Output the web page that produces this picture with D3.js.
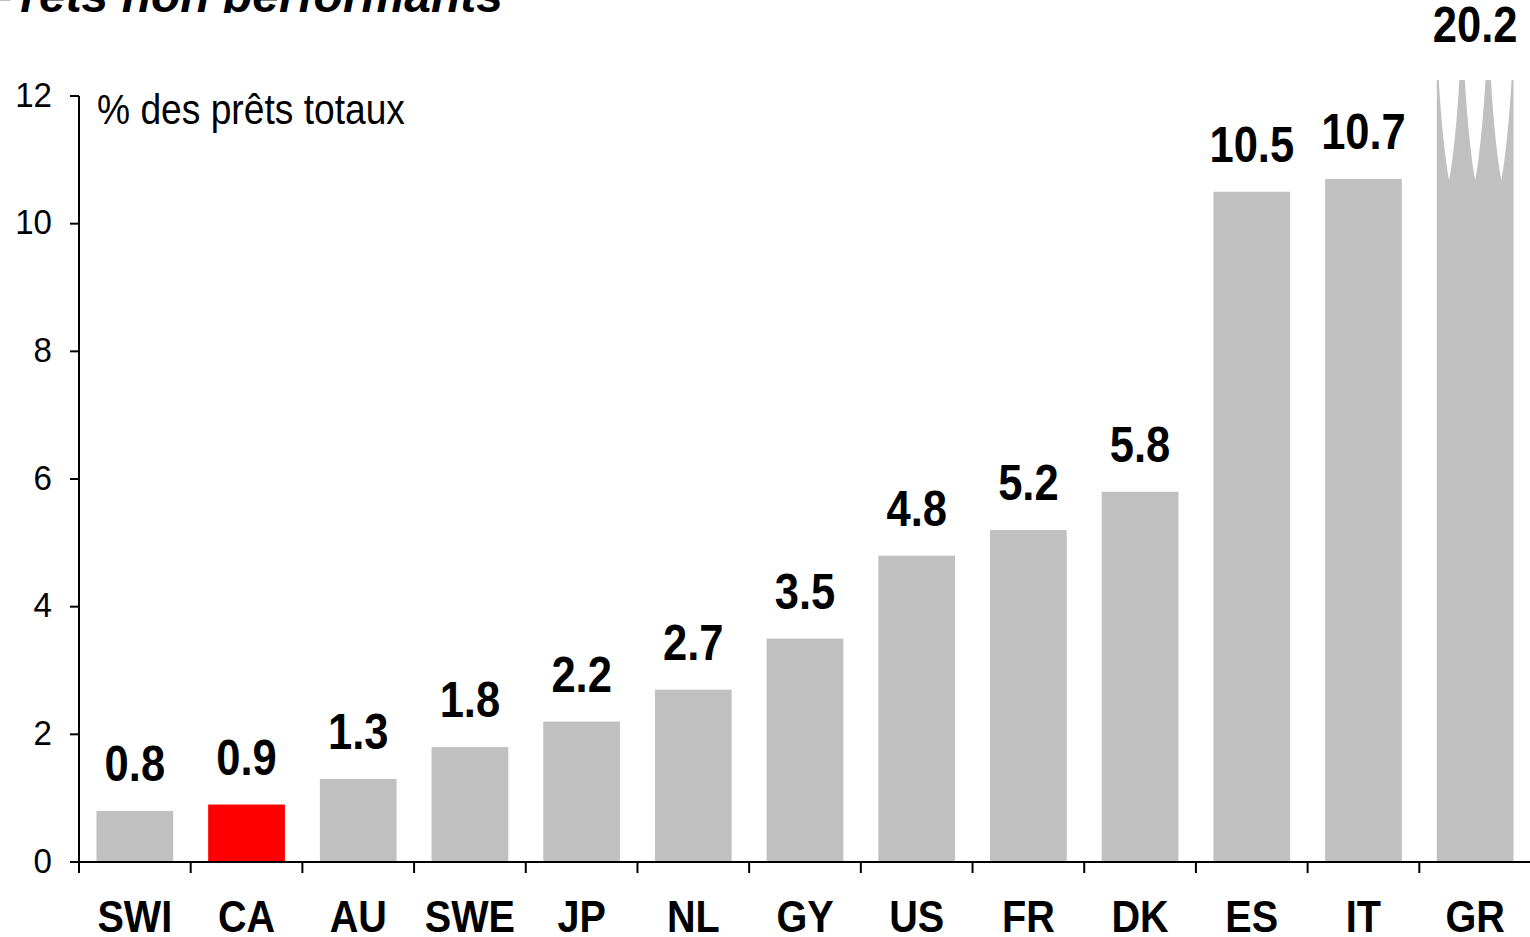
<!DOCTYPE html>
<html>
<head>
<meta charset="utf-8">
<script src="https://cdn.jsdelivr.net/npm/d3@7"></script>
<style>
  html, body { margin: 0; padding: 0; background: #fff; }
  svg { display: block; font-family: "Liberation Sans", Arial, sans-serif; }
</style>
</head>
<body>
<svg id="chart" width="1530" height="937"></svg>
<script>
// ---- data ----
const categories = ["SWI", "CA", "AU", "SWE", "JP", "NL", "GY", "US", "FR", "DK", "ES", "IT", "GR"];
const values = [0.8, 0.9, 1.3, 1.8, 2.2, 2.7, 3.5, 4.8, 5.2, 5.8, 10.5, 10.7, 20.2];
const highlight = ["CA"];
const yTicks = [0, 2, 4, 6, 8, 10, 12];
const titleText = "Prêts non performants";
const unitText = "% des prêts totaux";

// ---- layout ----
const W = 1530, H = 937;
const left = 79, right = 1531, zeroY = 862, topY = 96;
const yMax = 12, breakCap = 12.25;
const sx = 0.87;

const svg = d3.select("#chart");

const x = d3.scaleBand().domain(categories).range([left, right]).paddingInner(0.313).paddingOuter(0.1565);
const y = d3.scaleLinear().domain([0, yMax]).range([zeroY, topY]);

// title (cut off at top)
svg.append("clipPath").attr("id", "tclip").append("rect").attr("x", 0).attr("y", 0).attr("width", W).attr("height", 13);
svg.append("g").attr("clip-path", "url(#tclip)")
  .append("text")
  .attr("x", 503).attr("y", 12)
  .attr("text-anchor", "end")
  .attr("font-size", 48).attr("font-weight", "bold").attr("font-style", "italic")
  .text(titleText);

// bars
const bars = svg.append("g");
bars.selectAll("rect").data(categories).join("rect")
  .attr("x", d => x(d))
  .attr("width", x.bandwidth())
  .attr("y", (d, i) => y(Math.min(values[i], breakCap)))
  .attr("height", (d, i) => zeroY - y(Math.min(values[i], breakCap)))
  .attr("fill", d => highlight.includes(d) ? "#FF0000" : "#C0C0C0");

// break marks on bars exceeding the axis
categories.forEach((c, i) => {
  if (values[i] <= yMax) return;
  const x0 = x(c), bw = x.bandwidth();
  const top = y(breakCap), bottom = y(10.7) + 1;
  const h = bottom - top;
  const centers = [x0 + bw * 0.16, x0 + bw * 0.5, x0 + bw * 0.84];
  const hw = bw * 0.135;
  centers.forEach(cx => {
    const p = d3.path();
    p.moveTo(cx - hw, top - 1);
    p.bezierCurveTo(cx - hw * 0.75, top + h * 0.45, cx - hw * 0.3, top + h * 0.85, cx, bottom);
    p.bezierCurveTo(cx + hw * 0.3, top + h * 0.85, cx + hw * 0.75, top + h * 0.45, cx + hw, top - 1);
    p.closePath();
    bars.append("path").attr("d", p.toString()).attr("fill", "#fff");
  });
});

// value labels
svg.append("g").selectAll("text").data(categories).join("text")
  .attr("transform", (d, i) => {
    const cx = x(d) + x.bandwidth() / 2;
    const by = values[i] > yMax ? y(breakCap) - 38 : y(values[i]) - 30;
    return `translate(${cx},${by}) scale(${sx},1)`;
  })
  .attr("text-anchor", "middle")
  .attr("font-size", 50).attr("font-weight", "bold")
  .text((d, i) => values[i].toFixed(1));

// y axis
const ya = svg.append("g");
ya.append("line").attr("x1", left).attr("x2", left).attr("y1", y(yMax)).attr("y2", zeroY)
  .attr("stroke", "#000").attr("stroke-width", 2);
ya.selectAll("line.tk").data(yTicks).join("line").attr("class", "tk")
  .attr("x1", left - 9).attr("x2", left).attr("y1", d => y(d)).attr("y2", d => y(d))
  .attr("stroke", "#000").attr("stroke-width", 2);
ya.selectAll("text").data(yTicks).join("text")
  .attr("transform", d => `translate(52,${y(d) + 10.5}) scale(0.92,1)`)
  .attr("text-anchor", "end")
  .attr("font-size", 36)
  .text(d => d);

// unit label
svg.append("text")
  .attr("transform", `translate(97,124) scale(0.865,1)`)
  .attr("font-size", 43)
  .text(unitText);

// x axis
const xa = svg.append("g");
xa.append("line").attr("x1", left - 9).attr("x2", W).attr("y1", zeroY).attr("y2", zeroY)
  .attr("stroke", "#000").attr("stroke-width", 2);
const boundaries = categories.map(c => x(c) - x.step() * x.paddingInner() / 2);
boundaries[0] = left;
xa.selectAll("line.tk").data(boundaries).join("line").attr("class", "tk")
  .attr("x1", d => d).attr("x2", d => d).attr("y1", zeroY).attr("y2", zeroY + 11)
  .attr("stroke", "#000").attr("stroke-width", 2);
xa.selectAll("text").data(categories).join("text")
  .attr("transform", d => `translate(${x(d) + x.bandwidth() / 2},932) scale(0.88,1)`)
  .attr("text-anchor", "middle")
  .attr("font-size", 45).attr("font-weight", "bold")
  .text(d => d);
</script>
</body>
</html>
